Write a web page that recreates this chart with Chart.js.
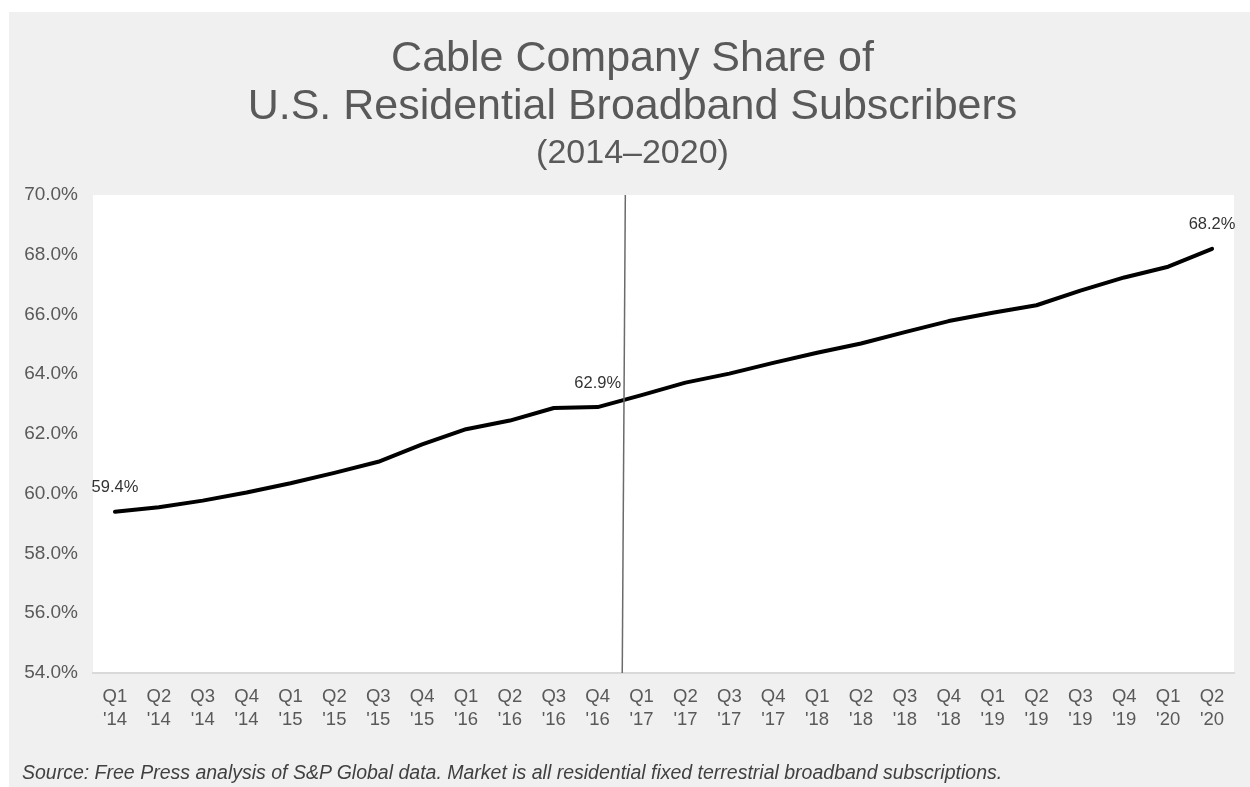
<!DOCTYPE html>
<html>
<head>
<meta charset="utf-8">
<title>Cable Company Share of U.S. Residential Broadband Subscribers</title>
<script src="https://cdn.jsdelivr.net/npm/chart.js@4.4.1/dist/chart.umd.min.js"></script>
<style>
  html, body { margin: 0; padding: 0; background: #ffffff; }
  #wrap { position: relative; width: 1250px; height: 787px; overflow: hidden; }
  #chart { position: absolute; left: 0; top: 0; }
  #source {
    position: absolute; left: 22px; top: 761px;
    font-family: "Liberation Sans", Arial, sans-serif;
    font-style: italic; font-size: 19.5px; color: #404040;
    white-space: nowrap; line-height: 22px;
  }
</style>
</head>
<body>
<div id="wrap">
  <canvas id="chart" width="1250" height="787"></canvas>
  <div id="source">Source: Free Press analysis of S&amp;P Global data. Market is all residential fixed terrestrial broadband subscriptions.</div>
</div>
<script>
// Quarters shown on the x axis (two-line labels)
const quarters = ["Q1","Q2","Q3","Q4","Q1","Q2","Q3","Q4","Q1","Q2","Q3","Q4",
                  "Q1","Q2","Q3","Q4","Q1","Q2","Q3","Q4","Q1","Q2","Q3","Q4","Q1","Q2"];
const years = ["'14","'14","'14","'14","'15","'15","'15","'15","'16","'16","'16","'16",
               "'17","'17","'17","'17","'18","'18","'18","'18","'19","'19","'19","'19","'20","'20"];

// Cable company share of residential broadband subscribers, percent
const cableShare = [59.4, 59.55, 59.77, 60.04, 60.35, 60.70, 61.07, 61.65, 62.16, 62.45, 62.87, 62.9,
                    63.3, 63.72, 64.02, 64.38, 64.72, 65.03, 65.41, 65.78, 66.06, 66.31, 66.8, 67.24, 67.6, 68.2];

// Points that carry a value label
const labelledPoints = [0, 11, 25];

// Y axis range and step
const yMin = 54, yMax = 70, yStep = 2;

// Position (in category units) of the divider between Q4 '16 and Q1 '17
const dividerTop = 11.63, dividerBottom = 11.56;

const categories = quarters.map((q, i) => [q, years[i]]);

const backdrop = {
  id: 'backdrop',
  beforeDraw(chart) {
    const { ctx, chartArea: a } = chart;
    ctx.save();
    ctx.fillStyle = '#ffffff';
    ctx.fillRect(0, 0, chart.width, chart.height);
    ctx.fillStyle = '#f0f0f0';
    ctx.fillRect(9, 12, chart.width - 9, chart.height - 12);
    ctx.fillStyle = '#ffffff';
    ctx.fillRect(a.left, a.top, a.right - a.left, a.bottom - a.top);
    ctx.restore();
  }
};

// Title and subtitle are centred over the grey panel rather than the full canvas
const centreHeadings = {
  id: 'centreHeadings',
  afterLayout(chart) {
    chart.boxes.forEach(b => {
      if (b.options && b.options.text !== undefined && !b.axis) {
        b.left += 22;
      }
    });
  }
};

const divider = {
  id: 'divider',
  afterDatasetsDraw(chart) {
    const { ctx, chartArea: a, scales: { x } } = chart;
    ctx.save();
    ctx.strokeStyle = '#6b6b6b';
    ctx.lineWidth = 1.5;
    ctx.beginPath();
    ctx.moveTo(x.getPixelForValue(dividerTop), a.top);
    ctx.lineTo(x.getPixelForValue(dividerBottom), a.bottom);
    ctx.stroke();
    ctx.restore();
  }
};

const valueLabels = {
  id: 'valueLabels',
  afterDatasetsDraw(chart) {
    const { ctx } = chart;
    const meta = chart.getDatasetMeta(0);
    ctx.save();
    ctx.font = '16.5px "Liberation Sans", Arial, sans-serif';
    ctx.fillStyle = '#333333';
    ctx.textAlign = 'center';
    ctx.textBaseline = 'middle';
    labelledPoints.forEach(i => {
      const p = meta.data[i];
      ctx.fillText(cableShare[i].toFixed(1) + '%', p.x, p.y - 24);
    });
    ctx.restore();
  }
};

new Chart(document.getElementById('chart'), {
  type: 'line',
  data: {
    labels: categories,
    datasets: [{
      data: cableShare,
      borderColor: '#000000',
      borderWidth: 4,
      pointRadius: 0,
      tension: 0,
      fill: false,
      borderCapStyle: 'round',
      borderJoinStyle: 'round'
    }]
  },
  options: {
    responsive: false,
    animation: false,
    layout: { padding: { left: 9, right: 16, top: 0, bottom: 54 } },
    plugins: {
      legend: { display: false },
      tooltip: { enabled: false },
      title: {
        display: true,
        text: ['Cable Company Share of', 'U.S. Residential Broadband Subscribers'],
        color: '#595959',
        font: { family: '"Liberation Sans", Arial, sans-serif', size: 43, weight: 'normal', lineHeight: 48 / 43 },
        padding: { top: 35, bottom: 0 }
      },
      subtitle: {
        display: true,
        text: '(2014\u20132020)',
        color: '#595959',
        font: { family: '"Liberation Sans", Arial, sans-serif', size: 34, weight: 'normal', lineHeight: 40 / 34 },
        padding: { top: 3, bottom: 21 }
      }
    },
    scales: {
      x: {
        offset: true,
        grid: { display: false, drawTicks: false },
        border: { display: true, color: '#d9d9d9', width: 2 },
        ticks: {
          color: '#595959',
          padding: 12,
          maxRotation: 0,
          autoSkip: false,
          font: { family: '"Liberation Sans", Arial, sans-serif', size: 18.5, lineHeight: 23 / 18.5 }
        },
        afterFit(scale) { scale.height = 60; }
      },
      y: {
        min: yMin,
        max: yMax,
        grid: { display: false, drawTicks: false },
        border: { display: false },
        ticks: {
          stepSize: yStep,
          color: '#595959',
          padding: 15,
          font: { family: '"Liberation Sans", Arial, sans-serif', size: 19 },
          callback: v => v.toFixed(1) + '%'
        },
        afterFit(scale) { scale.width = 84; }
      }
    }
  },
  plugins: [backdrop, centreHeadings, divider, valueLabels]
});
</script>
</body>
</html>
